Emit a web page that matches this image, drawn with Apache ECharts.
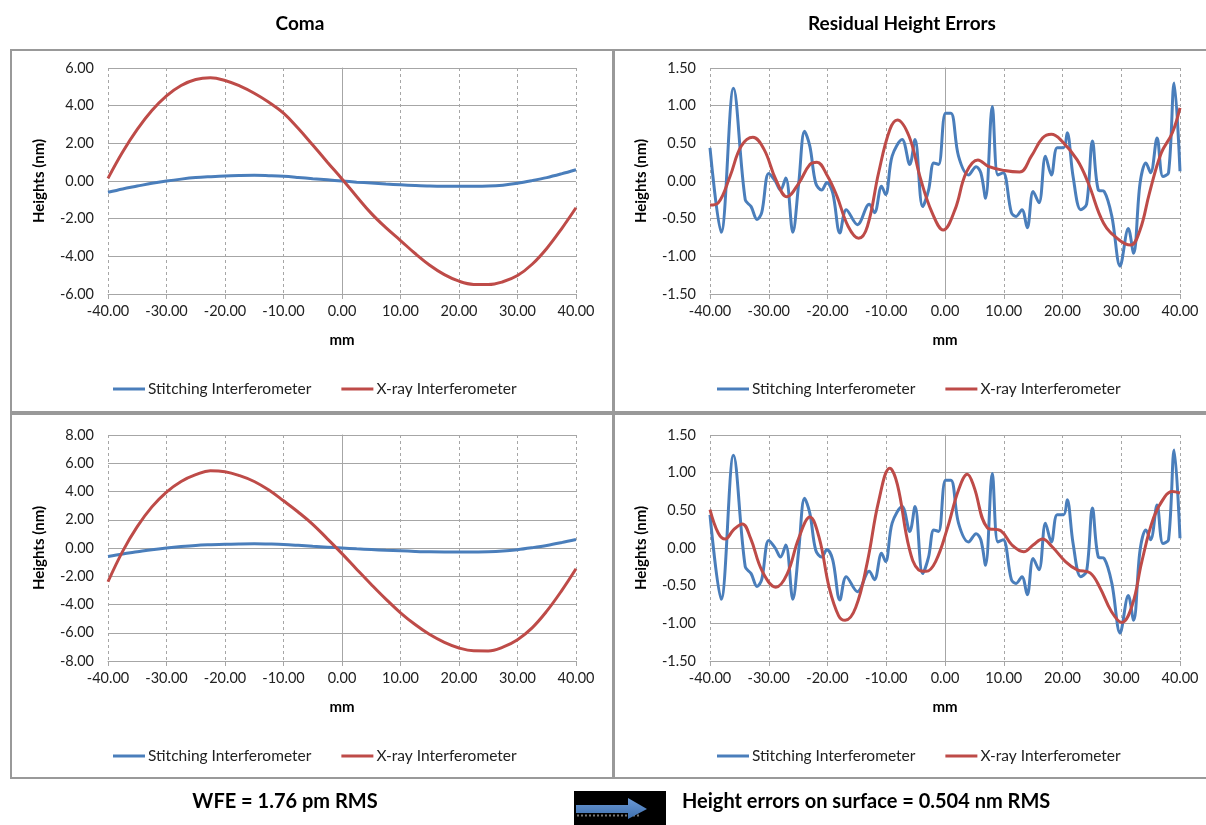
<!DOCTYPE html>
<html>
<head>
<meta charset="utf-8">
<script src="https://cdn.jsdelivr.net/npm/echarts@6/dist/echarts.min.js"></script>
<style>
  html, body { margin: 0; padding: 0; background: #fff; }
  #chart { width: 1206px; height: 825px; }
</style>
</head>
<body>
<div id="chart"></div>
<script>
// ---------- Data ----------
const xTicks = [-40, -30, -20, -10, 0, 10, 20, 30, 40];
const seriesNames = ['Stitching Interferometer', 'X-ray Interferometer'];
const panelTitles = ['Coma', 'Residual Height Errors'];
const footerLeft = 'WFE = 1.76 pm RMS';
const footerRight = 'Height errors on surface = 0.504 nm RMS';

// Coma panels (mm, nm)
const comaX = [-40, -37.5, -35, -32.5, -30, -27.5, -25, -22.5, -20, -17.5, -15, -12.5, -10, -7.5, -5, -2.5, 0, 2.5, 5, 7.5, 10, 12.5, 15, 17.5, 20, 22.5, 25, 27.5, 30, 32.5, 35, 37.5, 40];
const comaStitch = [-0.60, -0.42, -0.27, -0.12, 0.00, 0.10, 0.18, 0.23, 0.27, 0.29, 0.30, 0.28, 0.25, 0.19, 0.12, 0.06, 0.00, -0.06, -0.11, -0.16, -0.20, -0.24, -0.27, -0.28, -0.28, -0.28, -0.27, -0.22, -0.12, 0.02, 0.18, 0.38, 0.60];
const comaXrayTop = [0.14, 1.54, 2.74, 3.74, 4.52, 5.07, 5.39, 5.48, 5.34, 5.05, 4.66, 4.18, 3.60, 2.80, 1.91, 1.00, 0.11, -0.82, -1.72, -2.48, -3.16, -3.85, -4.47, -4.97, -5.32, -5.49, -5.50, -5.35, -5.02, -4.42, -3.58, -2.55, -1.42];
const comaXrayBottom = [-2.39, -0.24, 1.51, 2.91, 3.96, 4.71, 5.19, 5.47, 5.40, 5.12, 4.71, 4.10, 3.34, 2.55, 1.68, 0.65, -0.40, -1.50, -2.58, -3.62, -4.59, -5.42, -6.13, -6.68, -7.08, -7.28, -7.29, -7.02, -6.49, -5.65, -4.47, -3.05, -1.47];

// Residual panels: stitching interferometer (same in both)
const resStitchX = [-40, -38.1, -36.0, -34.0, -33.0, -32.0, -31.2, -30.0, -28.9, -28.0, -27.1, -25.9, -24.9, -23.9, -23.0, -22.0, -21.0, -20.1, -19.1, -17.9, -16.8, -14.9, -12.9, -12.0, -10.8, -10.1, -9.0, -7.3, -6.0, -5.1, -3.8, -2.8, -1.9, -1.1, 0.1, 1.0, 2.3, 4.0, 5.3, 6.1, 6.9, 8.05, 9.0, 9.9, 11.3, 12.1, 13.1, 14.0, 15.0, 16.0, 17.1, 18.1, 19.1, 20.2, 20.8, 21.8, 23.1, 24.1, 25.1, 26.1, 27.1, 28.4, 29.8, 31.2, 32.1, 33.2, 34.2, 35.0, 36.1, 37.1, 38.05, 39.0, 40.0];
const resStitchY = [0.44, -0.68, 1.23, -0.25, -0.34, -0.51, -0.42, 0.10, 0.00, -0.12, 0.04, -0.68, -0.03, 0.66, 0.46, -0.03, -0.12, -0.02, -0.16, -0.69, -0.38, -0.58, -0.31, -0.42, -0.07, -0.18, 0.33, 0.55, 0.22, 0.55, -0.34, -0.12, 0.24, 0.22, 0.90, 0.90, 0.33, 0.08, 0.19, 0.11, -0.23, 0.99, 0.08, 0.11, -0.42, -0.47, -0.38, -0.62, -0.14, -0.29, 0.33, 0.08, 0.44, 0.44, 0.64, 0.06, -0.38, -0.31, 0.53, -0.12, -0.14, -0.47, -1.13, -0.63, -0.96, -0.03, 0.24, 0.11, 0.57, 0.06, 0.11, 1.30, 0.13];

// Residual panels: X-ray interferometer (top)
const resXrayTopX = [-40, -38.6, -36.6, -34.7, -32.7, -30.8, -28.8, -26.9, -24.9, -23.0, -21.8, -20.1, -18.4, -16.5, -14.7, -13.2, -11.3, -9.4, -8.1, -6.1, -4.2, -2.2, -0.3, 1.7, 3.6, 5.6, 7.5, 10.1, 12.7, 14.7, 16.6, 18.1, 19.9, 22.5, 24.4, 27.0, 29.6, 31.6, 33.2, 34.8, 36.8, 38.7, 40];
const resXrayTopY = [-0.32, -0.29, 0.06, 0.46, 0.58, 0.42, 0.02, -0.21, -0.03, 0.22, 0.25, 0.08, -0.20, -0.60, -0.76, -0.60, 0.11, 0.68, 0.81, 0.59, 0.04, -0.42, -0.65, -0.38, 0.11, 0.28, 0.19, 0.14, 0.12, 0.33, 0.57, 0.62, 0.53, 0.28, -0.03, -0.56, -0.78, -0.85, -0.65, -0.16, 0.37, 0.64, 0.97];

// Residual panels: X-ray interferometer (bottom)
const resXrayBotX = [-40, -38.6, -37.4, -36.0, -34.5, -33.1, -31.1, -28.8, -26.9, -24.9, -23.0, -21.4, -19.7, -18.1, -17.0, -15.2, -13.2, -11.3, -9.4, -8.1, -6.1, -4.5, -3.2, -1.6, 0.4, 2.3, 3.8, 4.9, 7.2, 9.5, 11.4, 13.4, 15.0, 16.6, 18.2, 20.5, 22.5, 24.7, 26.4, 28.3, 30.1, 31.9, 33.5, 35.5, 37.4, 38.7, 40];
const resXrayBotY = [0.51, 0.20, 0.12, 0.24, 0.32, 0.13, -0.31, -0.52, -0.35, 0.13, 0.41, 0.13, -0.53, -0.90, -0.96, -0.79, -0.18, 0.62, 1.06, 0.84, 0.00, -0.29, -0.31, -0.18, 0.26, 0.77, 0.98, 0.82, 0.27, 0.23, 0.04, -0.05, 0.04, 0.12, 0.02, -0.18, -0.29, -0.33, -0.53, -0.84, -0.99, -0.75, -0.18, 0.40, 0.68, 0.75, 0.73];

// ---------- Helpers ----------
const zip = (xs, ys) => xs.map((x, i) => [x, ys[i]]);
const FONT = 'Lato, "Open Sans", sans-serif';
const BLUE = '#4A7EBB';
const RED = '#BE4B48';
const GRID_COLOR = '#a6a6a6';

const panels = [
  { left: 108, top: 68, width: 468, height: 226, yMin: -6, yMax: 6, yInt: 2,
    stitch: zip(comaX, comaStitch), xray: zip(comaX, comaXrayTop), legendLeft: 108, legendTop: 376 },
  { left: 710, top: 68, width: 470, height: 226, yMin: -1.5, yMax: 1.5, yInt: 0.5,
    stitch: zip(resStitchX, resStitchY), xray: zip(resXrayTopX, resXrayTopY), legendLeft: 712, legendTop: 376 },
  { left: 108, top: 435, width: 468, height: 226, yMin: -8, yMax: 8, yInt: 2,
    stitch: zip(comaX, comaStitch), xray: zip(comaX, comaXrayBottom), legendLeft: 108, legendTop: 743 },
  { left: 710, top: 435, width: 470, height: 226, yMin: -1.5, yMax: 1.5, yInt: 0.5,
    stitch: zip(resStitchX, resStitchY), xray: zip(resXrayBotX, resXrayBotY), legendLeft: 712, legendTop: 743 }
];

const grid = [], xAxis = [], yAxis = [], series = [], legend = [];
panels.forEach((p, i) => {
  grid.push({ left: p.left, top: p.top, width: p.width, height: p.height, containLabel: false, outerBoundsMode: 'none' });
  xAxis.push({
    type: 'value', gridIndex: i, min: xTicks[0], max: xTicks[xTicks.length - 1], interval: 10,
    name: 'mm', nameLocation: 'middle', nameGap: 39,
    nameTextStyle: { fontFamily: FONT, fontWeight: 'bold', fontSize: 15, color: '#000' },
    axisLine: { show: true, onZero: false, lineStyle: { color: GRID_COLOR, width: 1 } },
    axisTick: { show: true, inside: false, length: 5, lineStyle: { color: GRID_COLOR } },
    axisLabel: { fontFamily: FONT, fontSize: 14.5, color: '#222', margin: 10, formatter: v => v.toFixed(2) },
    splitLine: { show: true, lineStyle: { color: GRID_COLOR, type: [3, 3], width: 1 } }
  });
  yAxis.push({
    type: 'value', gridIndex: i, min: p.yMin, max: p.yMax, interval: p.yInt,
    name: 'Heights (nm)', nameLocation: 'middle', nameGap: 61, nameRotate: 90,
    nameTextStyle: { fontFamily: FONT, fontWeight: 'bold', fontSize: 15, color: '#000' },
    axisLine: { show: true, lineStyle: { color: GRID_COLOR, width: 1 } },
    axisTick: { show: true, inside: false, length: 5, lineStyle: { color: GRID_COLOR } },
    axisLabel: { fontFamily: FONT, fontSize: 14.5, color: '#222', margin: 14, formatter: v => v.toFixed(2) },
    splitLine: { show: true, lineStyle: { color: GRID_COLOR, type: 'solid', width: 1 } }
  });
  series.push({
    name: seriesNames[0], type: 'line', xAxisIndex: i, yAxisIndex: i, data: p.stitch,
    smooth: 0.35, showSymbol: false, symbol: 'none', lineStyle: { color: BLUE, width: 3 }, itemStyle: { color: BLUE },
    z: 2
  });
  series.push({
    name: seriesNames[1], type: 'line', xAxisIndex: i, yAxisIndex: i, data: p.xray,
    smooth: 0.4, showSymbol: false, symbol: 'none', lineStyle: { color: RED, width: 3 }, itemStyle: { color: RED },
    z: 3
  });
  legend.push({
    left: p.legendLeft, top: p.legendTop, orient: 'horizontal', itemGap: 30,
    icon: 'rect', itemWidth: 32, itemHeight: 3,
    textStyle: { fontFamily: FONT, fontSize: 15.5, color: '#222', padding: [0, 0, 0, -2] },
    data: seriesNames
  });
});

const border = { stroke: '#999', lineWidth: 2, fill: 'none' };
const graphic = [
  { type: 'rect', shape: { x: 11, y: 50, width: 602, height: 362 }, style: border, silent: true },
  { type: 'rect', shape: { x: 614, y: 50, width: 600, height: 362 }, style: border, silent: true },
  { type: 'rect', shape: { x: 11, y: 414, width: 602, height: 364 }, style: border, silent: true },
  { type: 'rect', shape: { x: 614, y: 414, width: 600, height: 364 }, style: border, silent: true },
  { type: 'text', x: 300, y: 24, style: { text: panelTitles[0], font: 'bold 19px ' + FONT, fill: '#000', textAlign: 'center', textVerticalAlign: 'middle' } },
  { type: 'text', x: 902, y: 24, style: { text: panelTitles[1], font: 'bold 19px ' + FONT, fill: '#000', textAlign: 'center', textVerticalAlign: 'middle' } },
  { type: 'text', x: 285, y: 802, style: { text: footerLeft, font: 'bold 20px ' + FONT, fill: '#000', textAlign: 'center', textVerticalAlign: 'middle' } },
  { type: 'text', x: 682, y: 802, style: { text: footerRight, font: 'bold 20px ' + FONT, fill: '#000', textAlign: 'left', textVerticalAlign: 'middle' } },
  { type: 'rect', shape: { x: 574, y: 791, width: 92, height: 34 }, style: { fill: '#000' }, silent: true },
  { type: 'line', shape: { x1: 577, y1: 815.5, x2: 640, y2: 815.5 }, style: { stroke: '#777', lineWidth: 2, lineDash: [2, 2] }, silent: true },
  { type: 'polygon', shape: { points: [[576, 805], [628, 805], [628, 798], [647, 809], [628, 819], [628, 813], [576, 813]] },
    style: { fill: new echarts.graphic.LinearGradient(0, 0, 0, 1, [{ offset: 0, color: '#6C9AD6' }, { offset: 1, color: '#3E6FAE' }]) }, silent: true }
];

const chart = echarts.init(document.getElementById('chart'), null, { renderer: 'canvas' });
chart.setOption({
  animation: false,
  backgroundColor: '#fff',
  textStyle: { fontFamily: FONT },
  grid, xAxis, yAxis, series, legend, graphic
});
</script>
</body>
</html>
